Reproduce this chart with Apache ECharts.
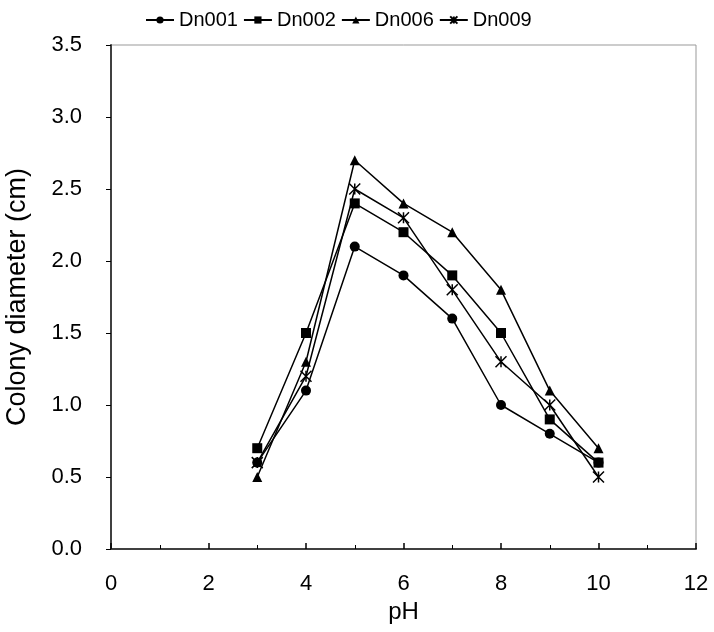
<!DOCTYPE html>
<html><head><meta charset="utf-8">
<script src="https://cdn.jsdelivr.net/npm/echarts@6/dist/echarts.min.js"></script>
<style>html,body{margin:0;padding:0;background:#fff}#c{width:714px;height:632px}</style>
</head><body><div id="c"></div>
<script>
const pH = [3, 4, 5, 6, 7, 8, 9, 10];
const dn001 = [0.6, 1.1, 2.1, 1.9, 1.6, 1.0, 0.8, 0.6];
const dn002 = [0.7, 1.5, 2.4, 2.2, 1.9, 1.5, 0.9, 0.6];
const dn006 = [0.5, 1.3, 2.7, 2.4, 2.2, 1.8, 1.1, 0.7];
const dn009 = [0.6, 1.2, 2.5, 2.3, 1.8, 1.3, 1.0, 0.5];
const names = ['Dn001', 'Dn002', 'Dn006', 'Dn009'];
const xTicks = [0, 2, 4, 6, 8, 10, 12];

const star = 'path://M0,0L10,10M10,0L0,10M5,0L5,10';
const symbols = ['circle', 'rect', 'triangle', star];
const sizes = [10, 10, 10, 11];
const all = [dn001, dn002, dn006, dn009];
const font = 'Liberation Sans, Arial, sans-serif';

const chart = echarts.init(document.getElementById('c'));
chart.setOption({
  animation: false,
  legend: {
    left: 140, top: 5, itemWidth: 28, itemHeight: 9, itemGap: 5,
    textStyle: {fontFamily: font, fontSize: 20, color: '#000'},
    data: names
  },
  grid: {left: 111, right: 18, top: 45, bottom: 83, show: true, borderColor: '#999', borderWidth: 1,
    outerBoundsMode: 'none', containLabel: false},
  xAxis: {
    type: 'value', min: 0, max: 12, interval: 2,
    name: 'pH', nameLocation: 'middle', nameGap: 50,
    nameTextStyle: {fontFamily: font, fontSize: 24, color: '#000'},
    axisLine: {show: true, lineStyle: {color: '#404040', width: 2}},
    axisTick: {show: true, inside: true, length: 6, lineStyle: {color: '#000', width: 1.5}},
    minorTick: {show: true, splitNumber: 2, length: 4, lineStyle: {color: '#000'}},
    axisLabel: {fontFamily: font, fontSize: 22, color: '#000', margin: 24,
      formatter: v => xTicks.includes(v) ? String(v) : ''},
    splitLine: {show: false}
  },
  yAxis: {
    type: 'value', min: 0, max: 3.5, interval: 0.5,
    name: 'Colony diameter (cm)', nameLocation: 'middle', nameGap: 80,
    nameTextStyle: {fontFamily: font, fontSize: 27, color: '#000'},
    axisLine: {show: true, lineStyle: {color: '#404040', width: 2}},
    axisTick: {show: true, inside: false, length: 5, lineStyle: {color: '#000'}},
    axisLabel: {fontFamily: font, fontSize: 22, color: '#000', margin: 29,
      formatter: v => v.toFixed(1)},
    splitLine: {show: false}
  },
  series: names.map((n, i) => ({
    name: n, type: 'line',
    data: pH.map((x, j) => [x, all[i][j]]),
    symbol: symbols[i], symbolSize: sizes[i], showSymbol: true,
    lineStyle: {color: '#000', width: 1.5},
    itemStyle: {color: '#000', borderColor: '#000', borderWidth: i === 3 ? 1.5 : 0},
    z: 3
  }))
});
</script></body></html>
